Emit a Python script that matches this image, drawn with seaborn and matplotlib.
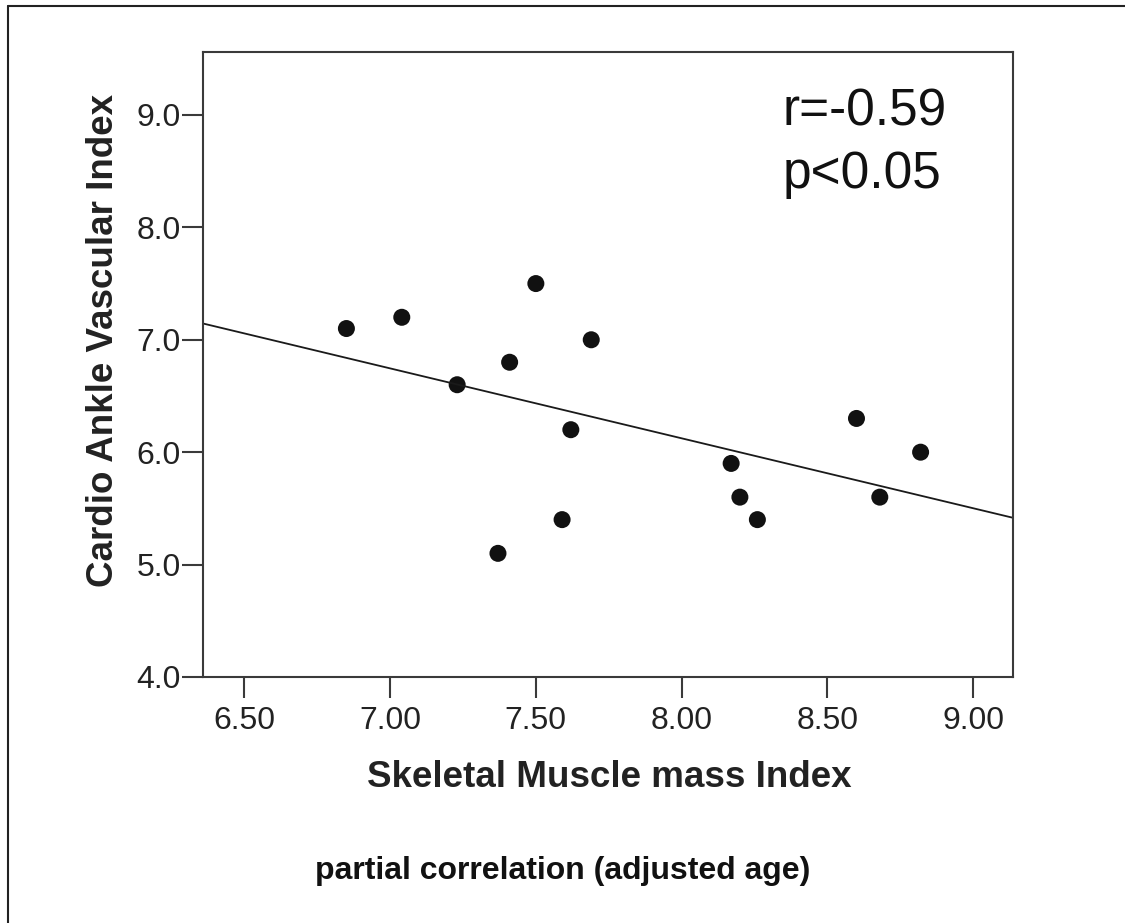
import matplotlib
matplotlib.use("Agg")
import matplotlib.pyplot as plt
from matplotlib import font_manager
from matplotlib.lines import Line2D
import seaborn as sns
import pandas as pd

# ---- data ----
smi = [6.85, 7.04, 7.23, 7.41, 7.50, 7.69, 7.62, 7.59, 7.37,
       8.17, 8.20, 8.26, 8.60, 8.68, 8.82]
cavi = [7.1, 7.2, 6.6, 6.8, 7.5, 7.0, 6.2, 5.4, 5.1,
        5.9, 5.6, 5.4, 6.3, 5.6, 6.0]
x_ticks = [6.50, 7.00, 7.50, 8.00, 8.50, 9.00]
y_ticks = [4.0, 5.0, 6.0, 7.0, 8.0, 9.0]
x_label = "Skeletal Muscle mass Index"
y_label = "Cardio Ankle Vascular Index"
stat_lines = ["r=-0.59", "p<0.05"]
caption = "partial correlation (adjusted age)"

df = pd.DataFrame({"smi": smi, "cavi": cavi})

sns.set_theme(style="white")
plt.rcParams["font.family"] = ["Liberation Sans", "DejaVu Sans"]

installed = {f.name for f in font_manager.fontManager.ttflist}
narrow = "Liberation Sans Narrow" if "Liberation Sans Narrow" in installed else None

W, H = 1125, 923
fig = plt.figure(figsize=(W / 100, H / 100), dpi=100)
fig.patch.set_facecolor("white")

L, R, T, B = 203, 1013, 52, 677
ax = fig.add_axes([L / W, 1 - B / H, (R - L) / W, (B - T) / H])
ax.set_xlim(6.358, 9.137)
ax.set_ylim(4.0, 9.56)

sns.regplot(data=df, x="smi", y="cavi", ax=ax, ci=None, truncate=False,
            scatter_kws=dict(s=150, color="#111111", edgecolor="none", alpha=1),
            line_kws=dict(color="#1a1a1a", lw=1.3))
ax.set_xlim(6.358, 9.137)
ax.set_ylim(4.0, 9.56)

ax.set_xticks(x_ticks)
ax.set_xticklabels([f"{v:.2f}" for v in x_ticks])
ax.set_yticks(y_ticks)
ax.set_yticklabels([f"{v:.1f}" for v in y_ticks])
ax.set_xlabel("")
ax.set_ylabel("")

spine_c = "#3a3a3a"
for s in ax.spines.values():
    s.set_visible(True)
    s.set_color(spine_c)
    s.set_linewidth(1.5)
ax.tick_params(axis="both", which="major", direction="out", length=15,
               width=1.5, color=spine_c, labelsize=23, labelcolor="#222222")
ax.tick_params(axis="x", pad=6, bottom=True)
ax.tick_params(axis="y", pad=1, left=True)
ax.grid(False)

# axis titles
fig.text(609.5 / W, 1 - 787 / H, x_label, ha="center", va="baseline",
         fontsize=26.5, fontweight="bold", color="#222222")
fig.text(104 / W, 1 - 340 / H, y_label, ha="center", va="center",
         rotation=90, fontsize=26.5, fontweight="bold", color="#222222")

# stats annotation
stat_family = [narrow, "Liberation Sans"] if narrow else ["Liberation Sans"]
stat_size = 42 if narrow else 37
fig.text(783 / W, 1 - 125 / H, stat_lines[0], ha="left", va="baseline",
         fontsize=stat_size, family=stat_family, color="#111111")
fig.text(783 / W, 1 - 188 / H, stat_lines[1], ha="left", va="baseline",
         fontsize=stat_size, family=stat_family, color="#111111")

# caption
cap_size = 29 if narrow else 23
fig.text(562.5 / W, 1 - 879 / H, caption, ha="center", va="baseline",
         fontsize=cap_size, fontweight="bold", family=stat_family, color="#111111")

# outer frame (only top and left edges visible)
fig.add_artist(Line2D([8 / W, 1], [1 - 6 / H, 1 - 6 / H], transform=fig.transFigure,
                      color="#222222", lw=1.5))
fig.add_artist(Line2D([8 / W, 8 / W], [0, 1 - 6 / H], transform=fig.transFigure,
                      color="#222222", lw=1.5))

fig.savefig("out.png", dpi=100, facecolor="white")
